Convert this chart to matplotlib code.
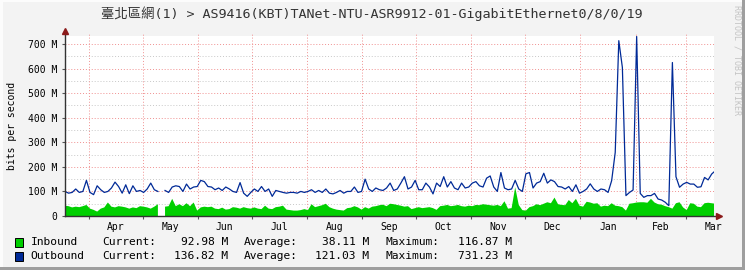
import numpy as np
import matplotlib.pyplot as plt
from matplotlib.patches import Rectangle
from matplotlib.lines import Line2D

nan = np.nan

# one sample every 2 days, Mbit/s
start = np.datetime64('2024-03-18T14:00')
step_days = 2

outbound = [100, 93, 96, 110, 96, 100, 145, 96, 87, 123, 107, 96, 100, 114, 138, 120,
            93, 127, 91, 123, 100, 104, 96, 110, 134, 107, 100, nan, 104, 96, 118,
            123, 120, 100, 130, 110, 118, 120, 145, 140, 120, 118, 107, 114, 104, 118,
            110, 100, 96, 136, 93, 80, 96, 110, 100, 120, 100, 110, 80, 104, 100, 96,
            93, 96, 96, 93, 100, 96, 100, 107, 96, 104, 96, 110, 93, 90, 96, 104,
            93, 100, 100, 118, 96, 100, 150, 110, 100, 114, 107, 104, 114, 134, 104,
            110, 134, 160, 110, 118, 145, 107, 107, 134, 118, 90, 134, 120, 160, 118,
            140, 114, 107, 134, 114, 118, 134, 140, 123, 118, 154, 163, 118, 100, 177, 114,
            107, 110, 145, 110, 100, 172, 177, 114, 134, 140, 174, 134, 147, 140, 120,
            118, 110, 120, 100, 127, 93, 100, 110, 131, 110, 100, 110, 107, 96,
            144, 259, 714, 605, 83, 96, 106, 731, 92, 76, 83, 83, 92, 69, 65,
            56, 42, 625, 160, 117, 130, 137, 130, 130, 117, 119, 157, 147, 171, 184]

inbound = [42, 40, 35, 38, 36, 40, 45, 30, 25, 18, 30, 35, 55, 38, 35, 40,
           38, 35, 30, 35, 32, 40, 38, 35, 30, 38, 48, nan, 38, 40, 70,
           40, 48, 40, 52, 40, 55, 22, 35, 38, 36, 38, 30, 28, 34, 26,
           28, 36, 34, 30, 36, 32, 30, 35, 30, 28, 42, 30, 28, 36, 38, 42,
           26, 24, 22, 22, 24, 28, 24, 48, 36, 40, 44, 50, 36, 30, 26, 24,
           22, 32, 34, 40, 35, 26, 36, 30, 38, 40, 44, 46, 40, 50, 48,
           45, 42, 38, 40, 28, 32, 36, 32, 34, 36, 32, 25, 40, 42, 45,
           40, 42, 45, 40, 38, 42, 40, 45, 44, 48, 46, 44, 42, 45, 40, 60,
           30, 32, 117, 45, 24, 22, 36, 40, 48, 44, 50, 56, 52, 75, 48,
           45, 44, 65, 52, 70, 42, 38, 58, 55, 50, 52, 38, 42, 40,
           52, 42, 40, 36, 22, 50, 52, 55, 56, 56, 54, 70, 55, 48, 46,
           40, 36, 30, 52, 56, 35, 24, 52, 50, 38, 36, 52, 54, 52, 50]

month_names = ['Apr', 'May', 'Jun', 'Jul', 'Aug', 'Sep', 'Oct', 'Nov', 'Dec', 'Jan', 'Feb', 'Mar']
y_ticks = [0, 100, 200, 300, 400, 500, 600, 700]
y_labels = ['0', '100 M', '200 M', '300 M', '400 M', '500 M', '600 M', '700 M']

title = '臺北區網(1) > AS9416(KBT)TANet-NTU-ASR9912-01-GigabitEthernet0/8/0/19'
legend_rows = [
    ('Inbound', '#00CF00', '92.98 M', '38.11 M', '116.87 M'),
    ('Outbound', '#002A97', '136.82 M', '121.03 M', '731.23 M'),
]

W, H = 745, 270
mono = 'DejaVu Sans Mono'


def fig_box(x0, y0, x1, y1):
    return [x0 / W, 1 - y1 / H, (x1 - x0) / W, (y1 - y0) / H]


def fx(x):
    return x / W


def fy(y):
    return 1 - y / H


fig = plt.figure(figsize=(W / 100, H / 100), dpi=100)
fig.patch.set_facecolor('#F3F3F3')

ax = fig.add_axes(fig_box(65, 36, 714, 216))
ax.set_facecolor('white')
for s in ax.spines.values():
    s.set_visible(False)

t = start + np.arange(len(outbound)) * np.timedelta64(step_days, 'D')
inb = np.array(inbound, dtype=float)
outb = np.array(outbound, dtype=float)

# grid
months = np.arange('2024-04', '2025-04', dtype='datetime64[M]')
month_starts = months.astype('datetime64[m]')
month_ends = (months + 1).astype('datetime64[m]')
month_mids = month_starts + (month_ends - month_starts) / 2

for v in range(50, 751, 50):
    if v % 100 == 0:
        ax.axhline(v, color='#F09090', lw=0.7, ls=(0, (1, 2)), zorder=1)
    else:
        ax.axhline(v, color='#C8C8C8', lw=0.7, ls=(0, (1, 2)), zorder=1)
for m in month_starts:
    ax.axvline(m, ymin=0, ymax=1 + 3 / 180, color='#F09090', lw=0.7,
               ls=(0, (1, 2)), zorder=1, clip_on=False)

# data
ax.fill_between(t, 0, inb, color='#00CF00', lw=0, zorder=2)
ax.plot(t, outb, color='#002A97', lw=0.9, zorder=3)

ax.set_ylim(0, 733)
ax.set_xlim(start, start + np.timedelta64(int(363.3 * 24), 'h'))

ax.set_yticks(y_ticks)
ax.set_yticklabels(y_labels, family=mono, fontsize=7)
ax.set_xticks(month_mids)
ax.set_xticklabels(month_names, family=mono, fontsize=7)
ax.set_xticks(month_starts, minor=True)
ax.tick_params(axis='x', which='major', length=0, pad=4)
ax.tick_params(axis='x', which='minor', length=2.5, width=0.8, color='#555555')
ax.tick_params(axis='y', which='major', length=2.5, width=0.8, color='#555555', pad=3)
ax.tick_params(axis='y', which='minor', length=0)

# axis lines with arrows
fig.add_artist(Line2D([fx(65), fx(718)], [fy(216), fy(216)], color='#333333', lw=1.0))
fig.add_artist(Line2D([fx(65), fx(65)], [fy(216), fy(33)], color='#333333', lw=1.0))
fig.add_artist(Line2D([fx(719)], [fy(216)], marker='>', ms=4, color='#8B1A1A', lw=0))
fig.add_artist(Line2D([fx(65)], [fy(31)], marker='^', ms=4, color='#8B1A1A', lw=0))

# texts
fig.text(fx(372), fy(14), title, ha='center', va='center', fontsize=9.6,
         family=[mono, 'Noto Sans CJK TC'], color='#333333')
fig.text(fx(12), fy(126), 'bits per second', rotation=90, ha='center', va='center',
         fontsize=7, family=mono)
fig.text(fx(737), fy(5), 'RRDTOOL / TOBI OETIKER', rotation=270, ha='center', va='top',
         fontsize=6, family=mono, color='#C4C4C4')

# legend
for k, (name, col, cur, avg, mx) in enumerate(legend_rows):
    yc = 242 + k * 14
    fig.add_artist(Rectangle((fx(15), fy(yc + 4.5)), 8 / W, 9 / H, facecolor=col,
                             edgecolor='black', lw=0.7, transform=fig.transFigure))
    kw = dict(va='center', fontsize=8.1, family=mono)
    fig.text(fx(30.7), fy(yc), name, ha='left', **kw)
    fig.text(fx(102), fy(yc), 'Current:', ha='left', **kw)
    fig.text(fx(228), fy(yc), cur, ha='right', **kw)
    fig.text(fx(244), fy(yc), 'Average:', ha='left', **kw)
    fig.text(fx(369), fy(yc), avg, ha='right', **kw)
    fig.text(fx(386), fy(yc), 'Maximum:', ha='left', **kw)
    fig.text(fx(512), fy(yc), mx, ha='right', **kw)

# 3d frame
fig.add_artist(Rectangle((0, 0), 3 / W, 1, facecolor='#FCFCFC', lw=0, transform=fig.transFigure))
fig.add_artist(Rectangle((0, 1 - 2 / H), 1, 2 / H, facecolor='#FCFCFC', lw=0, transform=fig.transFigure))
fig.add_artist(Rectangle((1 - 3 / W, 0), 3 / W, 1, facecolor='#9E9E9E', lw=0, transform=fig.transFigure))
fig.add_artist(Rectangle((0, 0), 1, 3 / H, facecolor='#9E9E9E', lw=0, transform=fig.transFigure))

fig.savefig('out.png', dpi=100, facecolor=fig.get_facecolor())
